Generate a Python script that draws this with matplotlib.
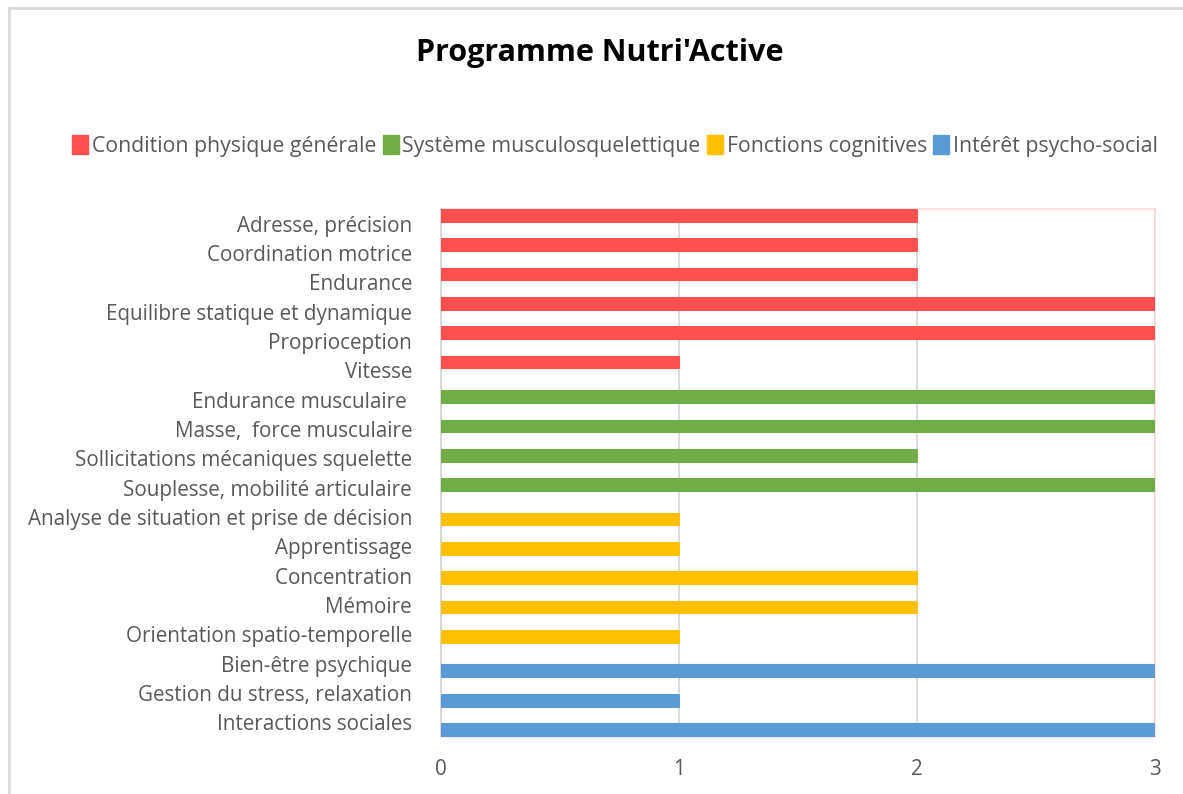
import matplotlib.pyplot as plt
from matplotlib.lines import Line2D
from matplotlib.patches import Patch

# données
series = ["Condition physique générale", "Système musculosquelettique",
          "Fonctions cognitives", "Intérêt psycho-social"]
colors = ["#FF5050", "#70AD47", "#FFC000", "#5B9BD5"]

labels = ["Adresse, précision ", "Coordination motrice ", "Endurance ",
          "Equilibre statique et dynamique ", "Proprioception ", "Vitesse ",
          "Endurance musculaire  ", "Masse,  force musculaire ",
          "Sollicitations mécaniques squelette ", "Souplesse, mobilité articulaire ",
          "Analyse de situation et prise de décision ", "Apprentissage ",
          "Concentration ", "Mémoire ", "Orientation spatio-temporelle ",
          "Bien-être psychique ", "Gestion du stress, relaxation ",
          "Interactions sociales "]
values = [2, 2, 2, 3, 3, 1,
          3, 3, 2, 3,
          1, 1, 2, 2, 1,
          3, 1, 3]
groups = [0, 0, 0, 0, 0, 0,
          1, 1, 1, 1,
          2, 2, 2, 2, 2,
          3, 3, 3]
xticks = [0, 1, 2, 3]

plt.rcParams['font.family'] = ['Open Sans', 'DejaVu Sans']

fig = plt.figure(figsize=(11.83, 7.94), dpi=100)
ax = fig.add_axes([0.3728, 0.0718, 0.6036, 0.665])

# barres groupées (une seule série non nulle par catégorie)
step = 0.175
for i, (v, g) in enumerate(zip(values, groups)):
    y = i + (g - 1.5) * step
    ax.barh(y, v, height=0.40, color=colors[g], edgecolor=colors[g],
            linewidth=1.5, joinstyle='round', zorder=3)

ax.set_ylim(len(labels) - 0.5, -0.5)
ax.set_xlim(0, 3)
ax.set_yticks(range(len(labels)))
ax.set_yticklabels(labels, fontsize=14.9, color='#595959')
ax.set_xticks(xticks)
ax.set_xticklabels([str(t) for t in xticks], fontsize=14.9, color='#595959')
ax.tick_params(length=0)
ax.tick_params(axis='x', pad=16)
ax.tick_params(axis='y', pad=17)
ax.grid(axis='x', color='#D9D9D9', linewidth=1.3, zorder=0)
for s in ['top', 'right', 'bottom']:
    ax.spines[s].set_color('#FCDADA')
    ax.spines[s].set_linewidth(1.2)
ax.spines['left'].set_color('#D9D9D9')
ax.spines['left'].set_linewidth(1.5)

fig.text(0.507, 0.933, "Programme Nutri'Active", ha='center', va='center',
         fontsize=22, fontweight='bold', color='black')

handles = [Patch(facecolor=c, edgecolor=c, joinstyle='round') for c in colors]
fig.legend(handles, series, loc='center', bbox_to_anchor=(0.520, 0.816),
           ncol=4, frameon=False, fontsize=15.3, handlelength=0.75,
           handleheight=1.0, handletextpad=0.18, columnspacing=0.3,
           labelcolor='#595959')

# cadre du graphique
fig.add_artist(Line2D([0.0076, 0.0076], [0, 0.99], color='#D9D9D9', lw=2))
fig.add_artist(Line2D([0.0076, 1], [0.99, 0.99], color='#D9D9D9', lw=2))

fig.savefig('out.png', dpi=100, facecolor='white')
